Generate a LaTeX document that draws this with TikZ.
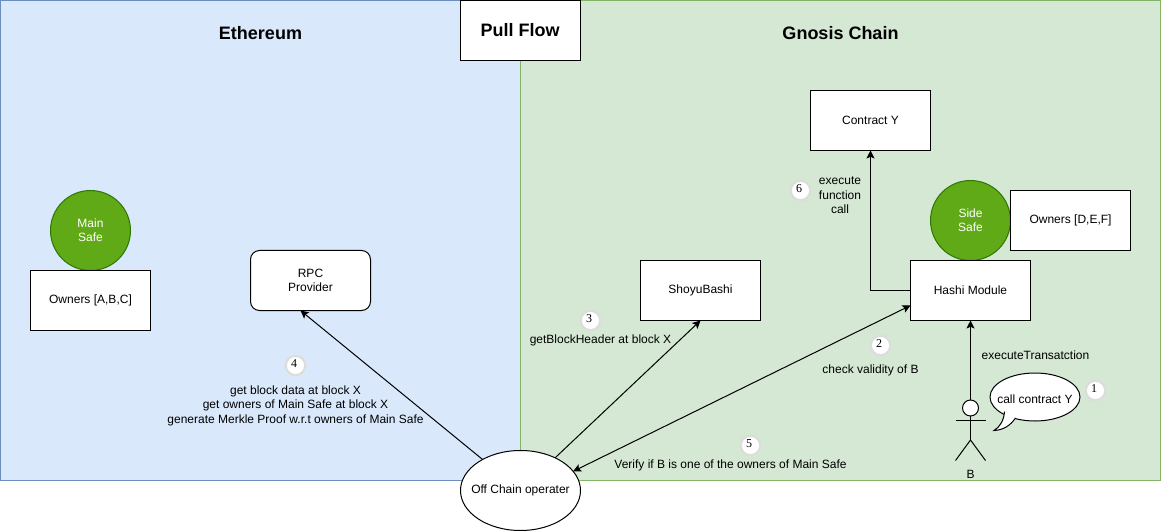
\documentclass[tikz,border=0pt]{standalone}
\usepackage{fontspec}
\setmainfont{Liberation Sans}
\newfontfamily\numfont{Liberation Serif}
\usetikzlibrary{arrows.meta,shapes.geometric}
\definecolor{bluefill}{HTML}{DAE8FC}
\definecolor{blueline}{HTML}{6C8EBF}
\definecolor{greenfill}{HTML}{D5E8D4}
\definecolor{greenline}{HTML}{82B366}
\definecolor{safefill}{HTML}{60A917}
\definecolor{safeline}{HTML}{2D7600}
\definecolor{numline}{HTML}{DCDCDC}
\tikzset{
  every node/.style={font=\fontsize{9pt}{10.8pt}\selectfont,inner sep=0pt,outer sep=0pt,align=center},
  plain/.style={line width=0.75pt,draw=black},
  flow/.style={plain,-{Stealth[length=6pt,width=6pt,inset=1.3pt]}},
  bothflow/.style={plain,{Stealth[length=6pt,width=6pt,inset=1.3pt]}-{Stealth[length=6pt,width=6pt,inset=1.3pt]}},
  region/.style={draw,line width=0.75pt,rectangle,minimum height=360pt},
  boxnode/.style={plain,fill=white,rectangle,minimum width=90pt,minimum height=45pt},
  rpcbox/.style={boxnode,rounded corners=6.75pt},
  safe/.style={circle,draw=safeline,fill=safefill,line width=0.75pt,minimum size=60pt,text=white},
  numbadge/.style={circle,draw=numline,fill=white,line width=1.5pt,minimum size=14.5pt,font=\numfont\fontsize{9pt}{10.8pt}\selectfont},
  titletext/.style={font=\bfseries\fontsize{13.5pt}{16pt}\selectfont},
}
\newcommand{\badge}[1]{\raisebox{1.6pt}[\height][\depth]{\hspace*{-2.2pt}#1}}
\begin{document}
\begin{tikzpicture}[x=0.75pt,y=-0.75pt]
\useasboundingbox (0,0) rectangle (1161,531);
% regions
\node[region,fill=bluefill,draw=blueline,minimum width=390pt] (eth) at (260.5,240.5) {};
\node[region,fill=greenfill,draw=greenline,minimum width=480pt] (gno) at (840.5,240.5) {};
\node[titletext] (ethtitle) at (260.5,33) {Ethereum};
\node[titletext] (gnotitle) at (840.5,33) {Gnosis Chain};
\node[boxnode,titletext] (pull) at (520,30.5) {Pull Flow};
% boxes
\node[safe] (mainsafe) at (90.5,230.5) {Main\\Safe};
\node[boxnode] (ownersabc) at (90.5,300.5) {Owners [A,B,C]};
\node[rpcbox] (rpc) at (310.5,280.5) {RPC\\Provider};
\node[boxnode] (shoyu) at (700.5,290.5) {ShoyuBashi};
\node[boxnode] (contract) at (870.5,120.5) {Contract Y};
\node[safe] (sidesafe) at (970.5,220.5) {Side\\Safe};
\node[boxnode] (ownersdef) at (1070.5,220.5) {Owners [D,E,F]};
\node[boxnode] (hashi) at (970.5,290.5) {Hashi Module};
\node[plain,fill=white,ellipse,minimum width=90pt,minimum height=60pt] (off) at (520.5,490.5) {\makebox[0pt]{Off Chain operater}};
\coordinate (hashientry) at (910.5,305.5);
\coordinate (rpcentry) at (300.5,310.5);
% actor
\node[plain,circle,fill=white,minimum size=12pt] (head) at (970.5,408) {};
\coordinate (hip) at (970.5,440);
\coordinate (neck) at (970.5,416);
\draw[plain] (neck) -- (hip);
\draw[plain] (955.5,420.5) -- (985.5,420.5);
\draw[plain] (955.5,460.5) -- (hip) -- (985.5,460.5);
\node (actorlabel) at (970.5,474) {B};
% connectors
\draw[flow] (off) -- (rpcentry);
\draw[flow] (off) -- (shoyu.south);
\draw[bothflow] (off.20) -- (hashientry);
\draw[flow] (head) -- (hashi.south);
\draw[flow] (hashi.west) -| (contract.south);
% speech bubble
\node[plain,fill=white,ellipse,minimum width=67.5pt,minimum height=36pt] (bubble) at (1035,397) {\makebox[0pt]{\raisebox{-2pt}[\height][\depth]{call contract Y}}};
\draw[plain,fill=white] (1004.5,411.5) .. controls (1004,420) and (1000,427) .. (994,430.5) .. controls (1003,430) and (1010,426) .. (1015.5,418);
% step labels
\node (l4) at (295.5,405.5) {get block data at block X\\get owners of Main Safe at block X\\generate Merkle Proof w.r.t owners of Main Safe};
\node (l3) at (600.5,340) {getBlockHeader at block X};
\node (l2) at (870.5,370) {check validity of B};
\node (l0) at (1035.5,355) {executeTransatction};
\node (l5) at (730.5,465) {Verify if B is one of the owners of Main Safe};
\node (l6) at (840,195.5) {execute\\function\\call};
% badges
\node[numbadge] (n1) at (1095.5,390.5) {\badge{1}};
\node[numbadge] (n2) at (880.5,345.5) {\badge{2}};
\node[numbadge] (n3) at (590.5,320.5) {\badge{3}};
\node[numbadge] (n4) at (295.5,365.5) {\badge{4}};
\node[numbadge] (n5) at (750.5,445.5) {\badge{5}};
\node[numbadge] (n6) at (800.5,190.5) {\badge{6}};
\end{tikzpicture}
\end{document}
